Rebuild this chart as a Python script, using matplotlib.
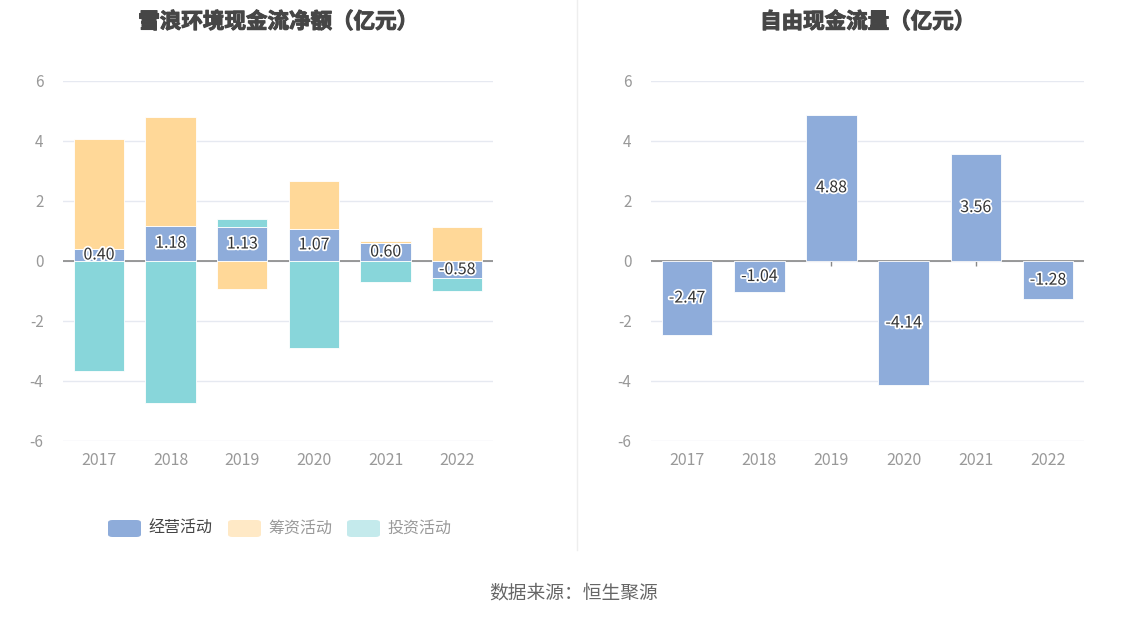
import matplotlib
matplotlib.use("Agg")
import matplotlib.pyplot as plt
import matplotlib.patheffects as pe
from matplotlib.patches import FancyBboxPatch
import numpy as np

plt.rcParams['font.family'] = ['Noto Sans CJK SC', 'DejaVu Sans']
plt.rcParams['axes.unicode_minus'] = False

years = ['2017', '2018', '2019', '2020', '2021', '2022']
jingying = [0.40, 1.18, 1.13, 1.07, 0.60, -0.58]
chouzi = [3.66, 3.61, -0.93, 1.59, 0.08, 1.13]
touzi = [-3.66, -4.74, 0.26, -2.90, -0.71, -0.42]
ziyou = [-2.47, -1.04, 4.88, -4.14, 3.56, -1.28]

series_names = ['经营活动', '筹资活动', '投资活动']
c_blue = '#8eacda'
c_orange = '#ffd898'
c_cyan = '#88d6da'
legend_colors = ['#8eacda', '#ffe9c6', '#c4eaec']
legend_text = ['#444444', '#999999', '#999999']

fig = plt.figure(figsize=(11.48, 6.19), dpi=100)
ax1 = fig.add_axes([0.0549, 0.2876, 0.3746, 0.5816])
ax2 = fig.add_axes([0.5671, 0.2876, 0.3772, 0.5816])

x = np.arange(len(years))
w = 0.7
outline = [pe.withStroke(linewidth=2.5, foreground='white')]
title_fx = [pe.withStroke(linewidth=0.8, foreground='#464646')]


def style_axis(ax, title):
    ax.set_ylim(-6, 6)
    ax.set_xlim(-0.5, len(years) - 0.5)
    ax.set_yticks([-6, -4, -2, 0, 2, 4, 6])
    ax.set_xticks(x)
    ax.set_xticklabels(years)
    for s in ax.spines.values():
        s.set_visible(False)
    ax.grid(axis='y', color='#e6e9f1', linewidth=1)
    ax.set_axisbelow(True)
    ax.tick_params(axis='y', length=0, pad=14, labelsize=11, labelcolor='#999999')
    ax.tick_params(axis='x', length=0, pad=8, labelsize=11.5, labelcolor='#999999')
    ax.axhline(0, color='#888888', linewidth=1.2, zorder=1)
    # category ticks hang from the zero line, hidden behind bars
    ax.vlines(x, -0.17, 0, color='#888888', linewidth=1, zorder=1)
    ax.set_title(title, fontsize=15.5, fontweight='bold', color='#464646', pad=38,
                 path_effects=title_fx)


# left: stacked bars, positives and negatives stacked separately
pos_base = np.zeros(len(years))
neg_base = np.zeros(len(years))
for vals, col in [(jingying, c_blue), (chouzi, c_orange), (touzi, c_cyan)]:
    vals = np.array(vals)
    bottoms = np.where(vals >= 0, pos_base, neg_base)
    ax1.bar(x, vals, w, bottom=bottoms, color=col, edgecolor='white', linewidth=0.6, zorder=2)
    if col == c_blue:
        for i, v in enumerate(vals):
            ax1.text(x[i], bottoms[i] + v / 2, f'{v:.2f}', ha='center', va='center',
                     fontsize=11.5, color='#333333', path_effects=outline, zorder=5)
    pos_base = pos_base + np.where(vals >= 0, vals, 0)
    neg_base = neg_base + np.where(vals < 0, vals, 0)
style_axis(ax1, '雪浪环境现金流净额（亿元）')

# right: free cash flow
ax2.bar(x, ziyou, w, color=c_blue, edgecolor='white', linewidth=0.6, zorder=2)
for i, v in enumerate(ziyou):
    ax2.text(x[i], v / 2, f'{v:.2f}', ha='center', va='center',
             fontsize=11.5, color='#333333', path_effects=outline, zorder=5)
style_axis(ax2, '自由现金流量（亿元）')

# legend drawn by hand
lx = [108, 228, 347]
for i, name in enumerate(series_names):
    px = lx[i] / 1148
    py = (619 - 537) / 619
    fig.patches.append(FancyBboxPatch((px, py), 33 / 1148, 17 / 619,
                                      boxstyle='round,pad=0,rounding_size=0.004',
                                      transform=fig.transFigure, facecolor=legend_colors[i],
                                      edgecolor='none'))
    fig.text(px + 40 / 1148, (619 - 528) / 619, name, fontsize=11.5, color=legend_text[i],
             va='center', ha='left')

# divider
fig.add_artist(plt.Line2D([577 / 1148, 577 / 1148], [(619 - 550) / 619, 1], transform=fig.transFigure,
                          color='#eeeeee', linewidth=1))

fig.text(0.5, (619 - 593) / 619, '数据来源：恒生聚源', ha='center', va='center', fontsize=13.5, color='#666666')

fig.savefig('out.png', dpi=100)
